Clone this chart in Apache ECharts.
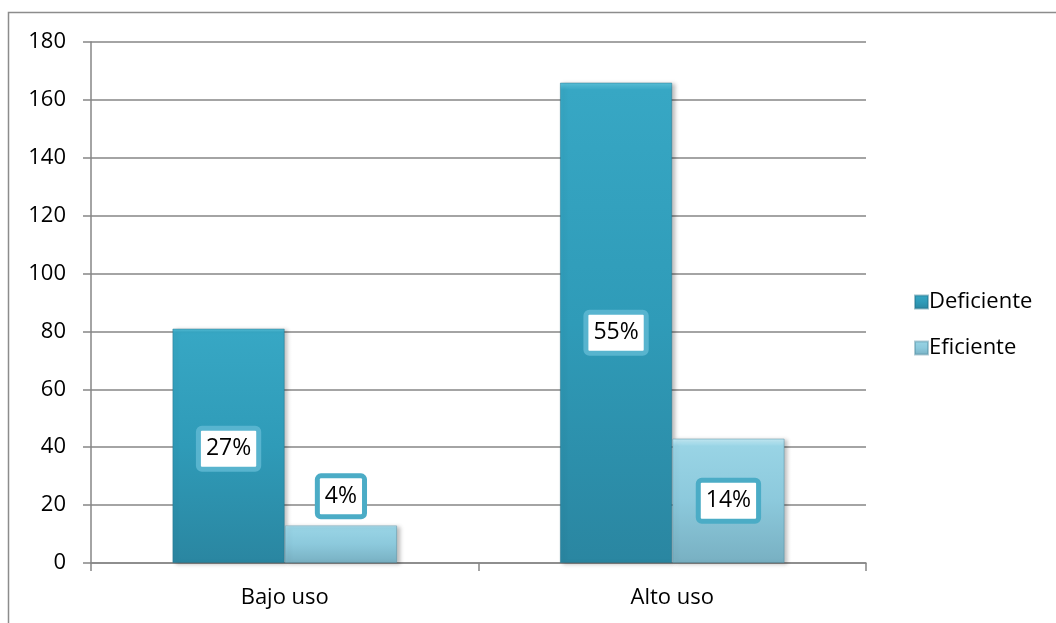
<!DOCTYPE html>
<html>
<head>
<meta charset="utf-8">
<script src="https://cdn.jsdelivr.net/npm/echarts@6/dist/echarts.min.js"></script>
<style>
html,body{margin:0;padding:0;background:#fff;}
#chart{width:1056px;height:623px;}
</style>
</head>
<body>
<div id="chart"></div>
<script>
var categories = ['Bajo uso', 'Alto uso'];
var seriesNames = ['Deficiente', 'Eficiente'];
var deficiente = [81, 166];
var eficiente = [13, 43];
var deficientePct = ['27%', '55%'];
var eficientePct = ['4%', '14%'];
var yTicks = [0, 20, 40, 60, 80, 100, 120, 140, 160, 180];

var FONT = '"Open Sans", sans-serif';

function labelBox(borderColor, pos, off) {
  var l = {
    show: true,
    position: pos,
    distance: 11,
    color: '#000',
    fontFamily: FONT,
    fontSize: 23,
    lineHeight: 28,
    backgroundColor: '#fff',
    borderColor: borderColor,
    borderWidth: 5,
    borderRadius: 1,
    padding: [4, 5, 4, 5]
  };
  if (off) l.offset = off;
  return l;
}

var defData = deficiente.map(function (v, i) {
  return { value: v, label: Object.assign(labelBox('rgba(95,185,210,0.85)', 'inside', [0, i === 1 ? 10 : 3]), { formatter: deficientePct[i] }) };
});
var efData = eficiente.map(function (v, i) {
  return { value: v, label: Object.assign(labelBox('#4bacc6', i === 0 ? 'top' : 'inside', null), { formatter: eficientePct[i] }) };
});

var chart = echarts.init(document.getElementById('chart'));
chart.setOption({
  animation: false,
  backgroundColor: '#fff',
  graphic: [{
    type: 'rect',
    shape: { x: 8.5, y: 12.5, width: 1100, height: 700 },
    style: { fill: 'none', stroke: '#8c8c8c', lineWidth: 1.5 },
    z: -10
  }],
  grid: { left: 91, right: 190, top: 42, bottom: 60, containLabel: false },
  legend: {
    orient: 'vertical',
    left: 909,
    top: 286,
    itemWidth: 13,
    itemHeight: 13,
    itemGap: 24,
    icon: 'rect',
    textStyle: { fontFamily: FONT, fontSize: 22, color: '#000', padding: [0, 0, 0, -4] },
    data: seriesNames
  },
  xAxis: {
    type: 'category',
    data: categories,
    axisLine: { lineStyle: { color: '#868686', width: 1.5 } },
    axisTick: { show: true, length: 8, alignWithLabel: false, lineStyle: { color: '#868686', width: 1.5 } },
    axisLabel: { fontFamily: FONT, fontSize: 22, color: '#000', margin: 24 },
    splitLine: { show: false }
  },
  yAxis: {
    type: 'value',
    min: yTicks[0],
    max: yTicks[yTicks.length - 1],
    interval: yTicks[1] - yTicks[0],
    axisLine: { show: true, lineStyle: { color: '#868686', width: 1.5 } },
    axisTick: { show: true, length: 8, lineStyle: { color: '#868686', width: 1.5 } },
    axisLabel: { fontFamily: FONT, fontSize: 22, color: '#000', margin: 25 },
    splitLine: { show: true, lineStyle: { color: '#868686', width: 1.5 } }
  },
  series: [{
    name: seriesNames[0],
    type: 'bar',
    barGap: '0%',
    barCategoryGap: '42%',
    data: defData,
    itemStyle: {
      color: {
        type: 'linear', x: 0, y: 0, x2: 0, y2: 1,
        colorStops: [
          { offset: 0, color: '#5cc3dc' },
          { offset: 0.015, color: '#37a7c4' },
          { offset: 0.5, color: '#2f9bb8' },
          { offset: 1, color: '#2a86a1' }
        ]
      },
      borderColor: 'rgba(30,110,135,0.45)',
      borderWidth: 1,
      shadowColor: 'rgba(0,0,0,0.25)',
      shadowBlur: 4,
      shadowOffsetX: 3,
      shadowOffsetY: 1
    }
  }, {
    name: seriesNames[1],
    type: 'bar',
    data: efData,
    itemStyle: {
      color: {
        type: 'linear', x: 0, y: 0, x2: 0, y2: 1,
        colorStops: [
          { offset: 0, color: '#c6ecf6' },
          { offset: 0.06, color: '#99d4e5' },
          { offset: 0.5, color: '#8cc9dc' },
          { offset: 1, color: '#78b0c2' }
        ]
      },
      borderColor: 'rgba(80,140,160,0.45)',
      borderWidth: 1,
      shadowColor: 'rgba(0,0,0,0.25)',
      shadowBlur: 4,
      shadowOffsetX: 3,
      shadowOffsetY: 1
    }
  }]
});
</script>
</body>
</html>
